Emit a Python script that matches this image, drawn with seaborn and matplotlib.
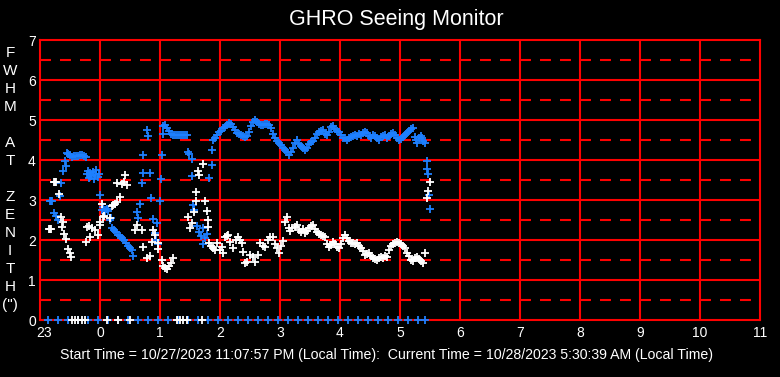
import seaborn as sns
import matplotlib.pyplot as plt
import matplotlib.transforms as mtransforms
import pandas as pd

# hours relative to local midnight (negative = before midnight)
blue_t = [-0.83, -0.82, -0.80, -0.77, -0.73, -0.70, -0.67, -0.65, -0.62, -0.58,
          -0.57, -0.55, -0.53, -0.50, -0.47, -0.43, -0.40, -0.37, -0.33, -0.30,
          -0.27, -0.23, -0.22, -0.20, -0.18, -0.17, -0.15, -0.12, -0.10, -0.08,
          -0.07, -0.03, -0.02, 0.00, 0.03, 0.05, 0.08, 0.12, 0.13, 0.17,
          0.18, 0.20, 0.23, 0.27, 0.30, 0.33, 0.37, 0.40, 0.43, 0.47,
          0.50, 0.53, 0.55, 0.62, 0.63, 0.67, 0.70, 0.72, 0.72, 0.78,
          0.80, 0.83, 0.85, 0.88, 0.92, 0.93, 0.95, 0.97, 1.00, 1.02,
          1.03, 1.05, 1.05, 1.08, 1.12, 1.15, 1.18, 1.22, 1.25, 1.28,
          1.32, 1.35, 1.38, 1.42, 1.45, 1.47, 1.48, 1.53, 1.53, 1.55,
          1.57, 1.62, 1.65, 1.68, 1.72, 1.72, 1.75, 1.78, 1.82, 1.87,
          1.87, 1.88, 1.92, 1.95, 1.98, 2.02, 2.05, 2.08, 2.12, 2.15,
          2.18, 2.22, 2.25, 2.28, 2.32, 2.35, 2.38, 2.42, 2.45, 2.48,
          2.52, 2.55, 2.58, 2.62, 2.65, 2.68, 2.72, 2.75, 2.78, 2.82,
          2.85, 2.88, 2.92, 2.95, 2.98, 3.02, 3.05, 3.08, 3.12, 3.15,
          3.18, 3.22, 3.25, 3.28, 3.32, 3.35, 3.38, 3.42, 3.45, 3.48,
          3.52, 3.55, 3.58, 3.62, 3.65, 3.68, 3.72, 3.75, 3.78, 3.82,
          3.85, 3.88, 3.92, 3.95, 3.98, 4.02, 4.05, 4.08, 4.12, 4.15,
          4.18, 4.22, 4.25, 4.28, 4.32, 4.35, 4.38, 4.42, 4.45, 4.48,
          4.52, 4.55, 4.58, 4.62, 4.65, 4.68, 4.72, 4.75, 4.78, 4.82,
          4.85, 4.88, 4.92, 4.95, 4.98, 5.02, 5.05, 5.08, 5.12, 5.15,
          5.18, 5.22, 5.25, 5.27, 5.28, 5.32, 5.35, 5.37, 5.38, 5.42,
          5.45, 5.45, 5.47, 5.48, 5.50]
blue_v = [2.98, 2.98, 2.98, 2.68, 2.60, 2.50, 3.10, 3.42, 3.72, 3.97,
          3.85, 4.18, 4.15, 4.12, 4.08, 4.10, 4.10, 4.10, 4.12, 4.12,
          4.10, 4.08, 3.65, 3.72, 3.55, 3.68, 3.60, 3.70, 3.52, 3.62,
          3.75, 3.58, 3.65, 3.12, 2.75, 2.82, 2.70, 2.78, 2.72, 2.50,
          2.55, 2.30, 2.25, 2.20, 2.12, 2.10, 2.05, 2.00, 1.92, 1.85,
          1.80, 1.75, 1.60, 2.70, 2.55, 2.90, 3.42, 3.67, 4.12, 4.75,
          4.60, 3.67, 3.05, 2.52, 2.17, 2.00, 2.42, 1.90, 2.98, 3.52,
          4.12, 4.65, 4.85, 4.88, 4.80, 4.72, 4.65, 4.62, 4.62, 4.62,
          4.62, 4.62, 4.62, 4.62, 4.62, 4.20, 4.15, 4.03, 3.60, 2.87,
          2.75, 2.35, 2.20, 2.10, 2.30, 1.90, 2.05, 2.15, 3.55, 4.25,
          3.87, 4.50, 4.55, 4.62, 4.70, 4.72, 4.80, 4.82, 4.88, 4.92,
          4.90, 4.82, 4.75, 4.68, 4.65, 4.62, 4.60, 4.57, 4.60, 4.70,
          4.85, 4.95, 5.00, 4.95, 4.90, 4.88, 4.87, 4.90, 4.90, 4.88,
          4.80, 4.65, 4.55, 4.48, 4.42, 4.38, 4.30, 4.25, 4.20, 4.12,
          4.20, 4.30, 4.42, 4.50, 4.40, 4.35, 4.30, 4.25, 4.30, 4.40,
          4.45, 4.48, 4.55, 4.65, 4.70, 4.72, 4.75, 4.65, 4.62, 4.70,
          4.82, 4.85, 4.78, 4.72, 4.70, 4.62, 4.55, 4.55, 4.50, 4.55,
          4.57, 4.60, 4.62, 4.60, 4.65, 4.62, 4.68, 4.70, 4.67, 4.60,
          4.55, 4.62, 4.60, 4.55, 4.50, 4.57, 4.60, 4.62, 4.55, 4.60,
          4.65, 4.67, 4.62, 4.55, 4.50, 4.52, 4.58, 4.62, 4.68, 4.72,
          4.78, 4.80, 4.57, 4.50, 4.42, 4.55, 4.60, 4.55, 4.48, 4.42,
          3.97, 3.77, 3.65, 3.12, 2.77]

white_t = [-0.85, -0.83, -0.81, -0.77, -0.75, -0.73, -0.68, -0.65, -0.63, -0.62,
           -0.60, -0.57, -0.53, -0.50, -0.48, -0.23, -0.22, -0.18, -0.17, -0.13,
           -0.08, -0.03, 0.00, 0.00, 0.03, 0.05, 0.07, 0.17, 0.20, 0.22,
           0.25, 0.28, 0.28, 0.33, 0.37, 0.40, 0.42, 0.45, 0.58, 0.62,
           0.70, 0.72, 0.78, 0.83, 0.87, 0.88, 0.92, 0.97, 0.97, 1.03,
           1.05, 1.08, 1.12, 1.15, 1.18, 1.22, 1.47, 1.50, 1.53, 1.57,
           1.60, 1.60, 1.63, 1.65, 1.72, 1.75, 1.78, 1.80, 1.80, 1.82,
           1.85, 1.88, 1.92, 1.95, 2.00, 2.03, 2.05, 2.08, 2.12, 2.13,
           2.17, 2.22, 2.27, 2.30, 2.33, 2.37, 2.38, 2.42, 2.45, 2.50,
           2.55, 2.58, 2.63, 2.67, 2.72, 2.75, 2.80, 2.83, 2.88, 2.92,
           2.95, 2.98, 3.02, 3.05, 3.08, 3.12, 3.15, 3.17, 3.20, 3.25,
           3.28, 3.32, 3.35, 3.38, 3.42, 3.45, 3.48, 3.52, 3.55, 3.58,
           3.62, 3.65, 3.68, 3.72, 3.75, 3.78, 3.82, 3.85, 3.88, 3.92,
           3.95, 3.98, 4.02, 4.05, 4.08, 4.12, 4.15, 4.18, 4.22, 4.25,
           4.28, 4.32, 4.35, 4.38, 4.42, 4.45, 4.48, 4.52, 4.55, 4.58,
           4.62, 4.65, 4.68, 4.72, 4.75, 4.78, 4.82, 4.85, 4.88, 4.92,
           4.95, 4.98, 5.02, 5.05, 5.08, 5.12, 5.15, 5.18, 5.22, 5.25,
           5.28, 5.32, 5.35, 5.38, 5.42, 5.45, 5.47, 5.50]
white_v = [2.27, 2.27, 2.27, 3.45, 3.45, 3.45, 3.15, 2.57, 2.32, 2.45,
           2.15, 2.02, 1.77, 1.67, 1.58, 1.95, 2.32, 2.35, 2.07, 2.30,
           2.25, 2.12, 2.37, 2.45, 2.90, 2.57, 2.60, 2.55, 2.85, 2.87,
           2.90, 2.95, 3.42, 3.07, 3.40, 3.45, 3.62, 3.38, 2.25, 2.37,
           2.25, 1.82, 1.55, 1.60, 1.95, 2.25, 2.12, 1.92, 1.77, 1.50,
           1.35, 1.30, 1.28, 1.35, 1.42, 1.55, 2.57, 2.30, 2.42, 2.70,
           3.20, 2.97, 3.72, 3.62, 3.90, 2.97, 2.72, 2.50, 2.32, 1.92,
           1.85, 1.80, 1.75, 1.92, 1.75, 1.82, 1.67, 2.07, 2.10, 2.12,
           1.95, 1.80, 2.00, 2.07, 2.00, 1.92, 1.70, 1.42, 1.45, 1.62,
           1.58, 1.45, 1.62, 1.92, 1.85, 1.82, 2.00, 2.07, 2.07, 1.90,
           1.80, 1.67, 1.85, 1.97, 2.45, 2.57, 2.30, 2.22, 2.30, 2.32,
           2.37, 2.25, 2.20, 2.28, 2.17, 2.22, 2.30, 2.35, 2.37, 2.28,
           2.20, 2.15, 2.12, 2.10, 2.07, 1.90, 1.82, 1.88, 1.95, 1.90,
           1.82, 1.80, 1.90, 2.05, 2.12, 2.05, 1.98, 1.92, 1.92, 1.90,
           1.92, 1.85, 1.80, 1.72, 1.62, 1.65, 1.67, 1.60, 1.55, 1.52,
           1.50, 1.55, 1.58, 1.55, 1.60, 1.58, 1.75, 1.85, 1.90, 1.92,
           1.95, 1.92, 1.90, 1.85, 1.80, 1.68, 1.60, 1.50, 1.48, 1.55,
           1.58, 1.52, 1.48, 1.42, 1.67, 3.05, 3.22, 3.45]

# readings logged as zero (no measurement)
blue_zero_t = [-0.87, -0.70, -0.53, -0.37, -0.20, -0.03, 0.13, 0.30, 0.47, 0.63,
               0.80, 0.97, 1.13, 1.30, 1.47, 1.63, 1.80, 1.97, 2.13, 2.30,
               2.47, 2.63, 2.80, 2.97, 3.13, 3.30, 3.47, 3.63, 3.80, 3.97,
               4.13, 4.30, 4.47, 4.63, 4.80, 4.97, 5.13, 5.30, 5.42]
white_zero_t = [-0.47, -0.42, -0.37, -0.30, -0.25, 0.12, 0.30, 0.50,
                1.28, 1.33, 1.38, 1.45, 1.70]

x_ticks = [-1, 0, 1, 2, 3, 4, 5, 6, 7, 8, 9, 10, 11]
x_labels = ["23", "0", "1", "2", "3", "4", "5", "6", "7", "8", "9", "10", "11"]

BLUE = "#1E80FF"
RED = "#FF0000"

sns.set_theme(style="dark")
plt.rcParams['font.family'] = ['Liberation Sans', 'DejaVu Sans']
plt.rcParams['lines.scale_dashes'] = False

blue = pd.DataFrame({"time": blue_t + blue_zero_t,
                     "fwhm": blue_v + [0.0] * len(blue_zero_t), "cam": "blue"})
white = pd.DataFrame({"time": white_t + white_zero_t,
                      "fwhm": white_v + [0.0] * len(white_zero_t), "cam": "white"})
df = pd.concat([blue, white], ignore_index=True)

fig = plt.figure(figsize=(7.8, 3.77), dpi=100, facecolor="black")
ax = fig.add_axes([40 / 780, 57 / 377, 720 / 780, 280 / 377])
ax.set_facecolor("black")

# grid: solid at whole units, dashed at halves
for y in range(1, 7):
    ax.axhline(y, color=RED, lw=1.5, zorder=1)
for y in [0.5, 1.5, 2.5, 3.5, 4.5, 5.5, 6.5]:
    ax.axhline(y, color=RED, lw=1.5, dashes=(7.9, 6.5), zorder=1)
for x in range(0, 11):
    ax.axvline(x, color=RED, lw=1.5, zorder=1)

sns.scatterplot(data=df, x="time", y="fwhm", hue="cam",
                palette={"blue": BLUE, "white": "white"},
                marker="+", s=32, linewidth=1.3, legend=False, ax=ax,
                zorder=3, clip_on=False)

ax.set_xlim(-1, 11)
ax.set_ylim(0, 7)
ax.set_xticks(x_ticks)
ax.set_xticklabels(x_labels)
ax.set_yticks(range(0, 8))
ax.set_xlabel("")
ax.set_ylabel("")
ax.grid(False)
ax.tick_params(axis="both", length=0, colors="white", labelsize=10, pad=3)
ax.tick_params(axis="x", pad=4)
# the "23" label sits a little right of its tick in the original
ax.get_xticklabels()[0].set_transform(
    ax.get_xticklabels()[0].get_transform()
    + mtransforms.ScaledTranslation(4 / 100, 0, fig.dpi_scale_trans))
for sp in ax.spines.values():
    sp.set_color(RED)
    sp.set_linewidth(1.5)
    sp.set_visible(True)

fig.text(0.508, 0.947, "GHRO Seeing Monitor", color="white", fontsize=15.5,
         ha="center", va="center")

ylab = "FWHM AT ZENITH"
for i, ch in enumerate(list(ylab) + ['(")']):
    if ch != " ":
        fig.text(10 / 780, 1 - (53 + 18 * i) / 377, ch, color="white",
                 fontsize=11, ha="center", va="center")

fig.text(0.496, 0.058,
         "Start Time = 10/27/2023 11:07:57 PM (Local Time):  Current Time = 10/28/2023 5:30:39 AM (Local Time)",
         color="white", fontsize=10.2, ha="center", va="center")

fig.savefig("out.png", dpi=100, facecolor="black")
